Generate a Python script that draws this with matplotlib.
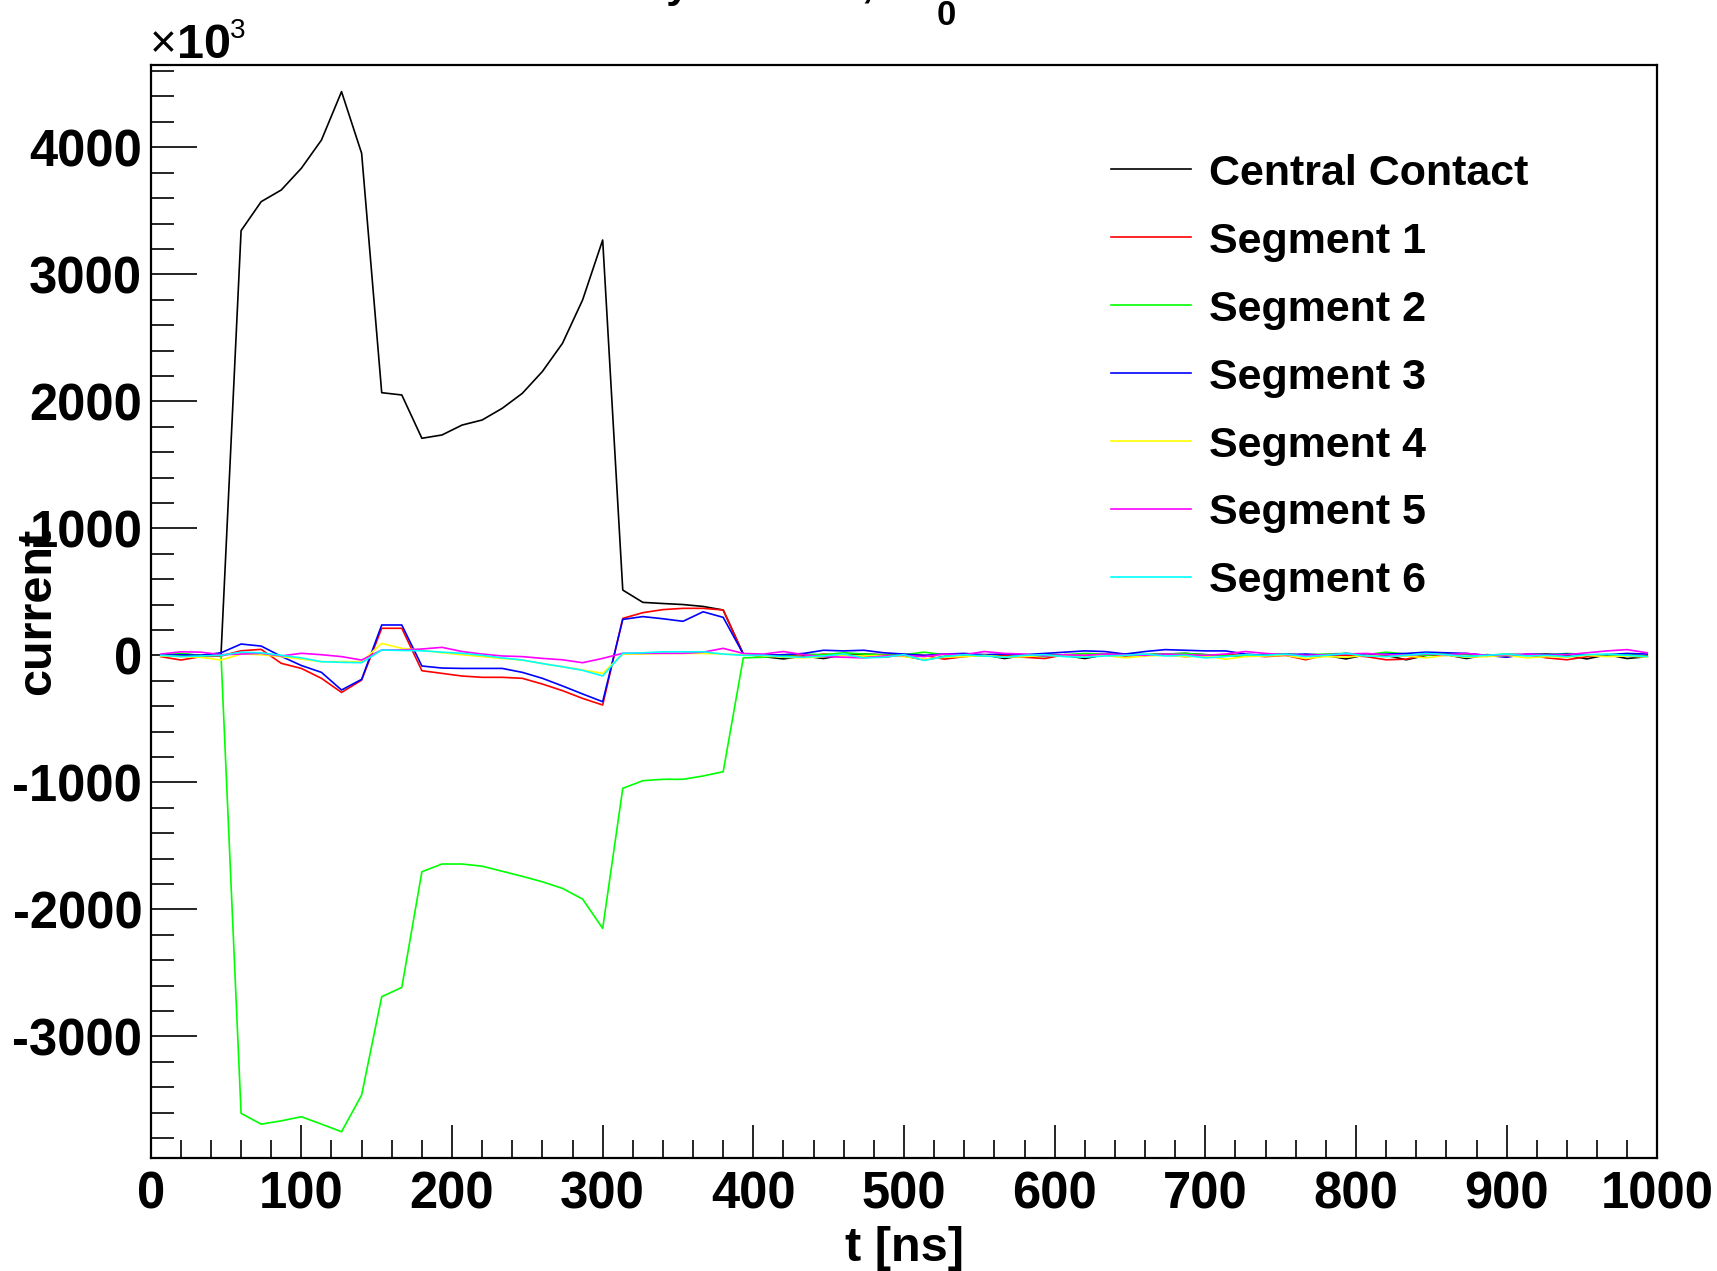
import matplotlib
matplotlib.use('Agg')
import matplotlib.pyplot as plt
from matplotlib.ticker import MultipleLocator
import numpy as np

# sample times: centres of 75 bins over 0..1000 ns
t_ns = (np.arange(75) + 0.5) * 1000 / 75

# current, in units of 10^3
central_contact = [
    0, 10, 0, 5, 3344, 3572, 3664, 3835, 4057, 4438, 3953, 2068, 2050, 1709, 1735,
    1813, 1853, 1945, 2063, 2235, 2457, 2798, 3270, 514, 417, 408, 400, 385, 357, 10,
    -10, -28, -5, -25, 5, 10, 5, -5, -35, -10, 0, 5, -25, 0, 5,
    0, -25, 5, 10, 5, 10, 15, 5, 0, -5, 5, 10, 0, 0, -28,
    5, 0, -35, 0, 5, -25, 5, 0, 5, 10, 0, -28, 5, -25, -10]
segment_1 = [
    -10, -37, -10, -5, 36, 47, -63, -103, -181, -292, -195, 213, 213, -121, -142,
    -163, -173, -173, -181, -226, -278, -339, -391, 291, 336, 360, 370, 370, 357, 10,
    0, 5, -10, 10, 0, -5, -15, 5, 0, -30, -10, 5, 0, -15, -25,
    5, 0, 10, -5, 0, 5, -10, 0, 5, 0, -10, 0, -35, 5, 0,
    -10, -35, -30, 5, 0, 10, 0, -10, 5, -20, -35, -10, 0, 5, -5]
segment_2 = [
    0, 15, 0, 0, -3606, -3691, -3665, -3633, -3691, -3751, -3462, -2688, -2614, -1704, -1643,
    -1643, -1660, -1700, -1740, -1783, -1835, -1919, -2150, -1047, -987, -976, -976, -950, -916, -20,
    -15, 0, 10, 5, 20, 10, 0, 5, 25, 5, 0, -5, 10, 0, -10,
    5, 15, 10, 0, 5, 10, 15, 5, 0, -5, 10, 0, 5, 10, 15,
    5, 25, 10, 0, 15, 5, 0, 10, 5, 0, 15, 5, 0, 10, -10]
segment_3 = [
    0, 5, 0, 20, 89, 73, -8, -80, -134, -273, -189, 239, 239, -84, -100,
    -103, -103, -103, -134, -181, -241, -304, -365, 283, 305, 288, 268, 343, 299, 10,
    0, 5, 15, 40, 35, 40, 20, 10, 0, 10, 15, 5, 10, 5, 15,
    25, 35, 30, 10, 30, 45, 40, 35, 35, 10, 0, 5, 10, 0, 15,
    5, 10, 15, 25, 20, 15, 0, -15, 10, 5, 10, 0, 5, 15, 10]
segment_4 = [
    -5, -10, -15, -37, 10, 5, -10, -30, -50, -50, -50, 94, 55, 40, 20,
    5, -10, -25, -37, -65, -90, -115, -142, 10, 10, 15, 15, 15, 10, 5,
    -5, -15, -20, -10, 0, -5, 0, -10, -30, -15, -10, 0, -15, -10, 0,
    -5, -10, 0, -20, -5, 0, -10, -5, -30, -10, -5, 0, -25, -10, -15,
    0, -10, -5, -20, 0, -15, -10, 0, -20, -10, -15, 0, -10, -5, -15]
segment_5 = [
    10, 28, 25, 5, 10, 16, -5, 16, 5, -10, -37, 42, 42, 50, 63,
    30, 10, -5, -10, -24, -35, -58, -24, 16, 16, 16, 16, 25, 55, 15,
    10, 30, 5, -10, -15, -20, -5, 0, -10, 10, 5, 30, 15, 10, -5,
    5, 0, 10, 5, 0, 10, 5, 0, 10, 30, 15, 5, 0, 5, 10,
    15, 5, 0, 10, 5, 15, 0, 5, 10, 0, 5, 20, 35, 45, 20]
segment_6 = [
    0, -10, -5, 0, 25, 20, 0, -20, -50, -55, -58, 42, 38, 36, 25,
    16, 0, -20, -37, -65, -90, -118, -162, 16, 20, 28, 28, 28, 10, 0,
    0, -10, -15, -5, 10, -20, -15, 5, -40, -10, 5, -5, -15, 0, 5,
    -10, -15, -5, 0, 10, -5, 0, -20, -10, 5, 0, 10, -10, 0, 15,
    -5, -10, 0, 15, 5, -10, 0, 10, -5, 0, -10, 5, 10, 0, -10]

labels = ['Central Contact', 'Segment 1', 'Segment 2', 'Segment 3',
          'Segment 4', 'Segment 5', 'Segment 6']
colors = ['#000000', '#ff0000', '#00ff00', '#0000ff', '#ffff00', '#ff00ff', '#00ffff']
series = [central_contact, segment_1, segment_2, segment_3,
          segment_4, segment_5, segment_6]

plt.rcParams['font.family'] = ['Liberation Sans', 'DejaVu Sans']
plt.rcParams['font.weight'] = 'bold'
plt.rcParams['axes.unicode_minus'] = False

W, H = 1717, 1271
fig = plt.figure(figsize=(W / 100, H / 100), dpi=100)
left, right, top, bottom = 150.7, 1657.3, 65, 1158.3
ax = fig.add_axes([left / W, (H - bottom) / H, (right - left) / W, (bottom - top) / H])

for vals, lab, col in zip(series, labels, colors):
    ax.plot(t_ns, vals, color=col, lw=1.2, label=lab)

ax.set_xlim(0, 1000)
ax.set_ylim(-3960, 4648)

for s in ax.spines.values():
    s.set_linewidth(1.6)

ax.xaxis.set_major_locator(MultipleLocator(100))
ax.xaxis.set_minor_locator(MultipleLocator(20))
ax.yaxis.set_major_locator(MultipleLocator(1000))
ax.yaxis.set_minor_locator(MultipleLocator(200))
ax.tick_params(axis='both', which='both', direction='in', top=False, right=False,
               width=1.2, labelsize=36.5)
ax.tick_params(axis='x', which='major', length=24, pad=9)
ax.tick_params(axis='x', which='minor', length=13)
ax.tick_params(axis='y', which='major', length=33, pad=6)
ax.tick_params(axis='y', which='minor', length=16.5)

ax.set_xlabel('t [ns]', fontsize=35, fontweight='bold')
ax.xaxis.set_label_coords(0.5, -0.062)
ax.set_ylabel('current', fontsize=35, fontweight='bold')
ax.yaxis.set_label_coords(-0.06, 0.5)

ax.legend(frameon=False, loc='upper left', bbox_to_anchor=(0.6374, 0.919),
          borderpad=0, borderaxespad=0, handlelength=1.86, handletextpad=0.42,
          labelspacing=0.65, prop={'size': 31, 'weight': 'bold'})

# exponent marker above the y axis
fig.text(150 / W, (H - 57) / H, '\u00d7', fontsize=33, fontweight='normal', va='baseline')
fig.text(177 / W, (H - 58) / H, '10', fontsize=35, fontweight='bold', va='baseline')
fig.text(230 / W, (H - 38) / H, '3', fontsize=20, fontweight='normal', va='baseline')

# title, mostly cut off by the top edge of the canvas
fig.text(449 / W, (H + 3) / H, 'Currents by Contact, x', fontsize=31,
         fontweight='bold', va='baseline')
fig.text(937 / W, (H - 25) / H, '0', fontsize=25, fontweight='bold', va='baseline')

fig.savefig('out.png', dpi=100)
